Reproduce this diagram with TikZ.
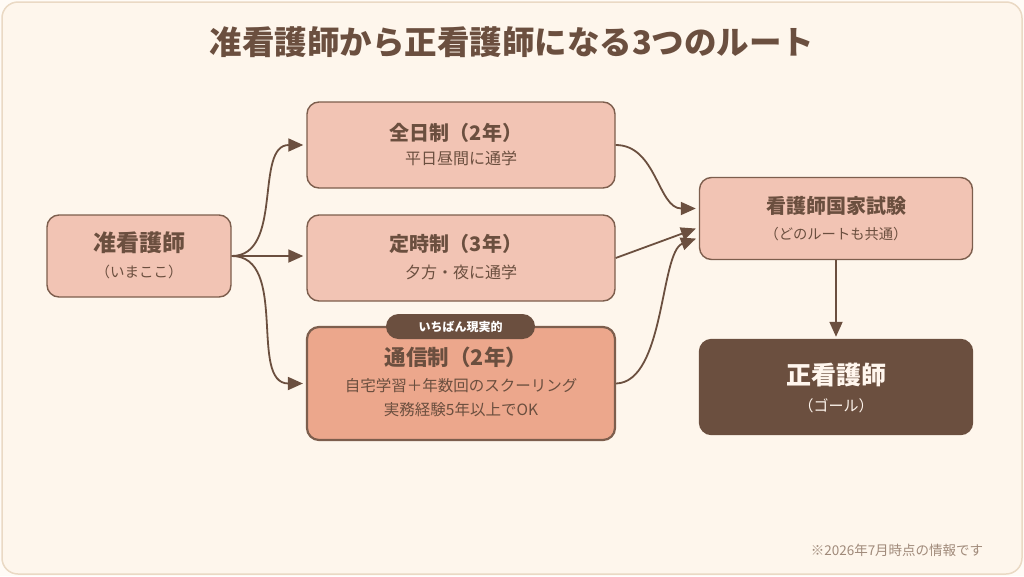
\documentclass[tikz,border=0pt]{standalone}
\usepackage{fontspec}
\setmainfont{Noto Sans CJK JP}
\usetikzlibrary{arrows.meta,calc}
\definecolor{outbg}{HTML}{FFFBF6}
\definecolor{bg}{HTML}{FEF6EC}
\definecolor{frameline}{HTML}{EAD9C4}
\definecolor{boxfill}{HTML}{F2C4B4}
\definecolor{boxfilldark}{HTML}{ECA78C}
\definecolor{boxline}{HTML}{7D5E4D}
\definecolor{ink}{HTML}{6B4F3F}
\definecolor{note}{HTML}{A08A7A}
\definecolor{light}{HTML}{FFF6EE}
\begin{document}
\begin{tikzpicture}[x=1pt,y=-1pt,
  box/.style={draw=boxline, line width=1.4pt, fill=boxfill, rounded corners=12pt, inner sep=0pt},
  ttl/.style={text=ink, inner sep=0pt},
  conn/.style={draw=ink, line width=1.8pt, -{Triangle[length=15pt,width=13pt]}, shorten >=3pt}]
\useasboundingbox (0,0) rectangle (1024,576);
\fill[outbg] (0,0) rectangle (1024,576);
\draw[fill=bg, draw=frameline, line width=1.5pt, rounded corners=16pt] (2,2) rectangle (1022,574);

\node[ttl, font=\fontsize{32.5}{32.5}\selectfont\bfseries] (title) at (512,42) {准看護師から正看護師になる3つのルート};

% boxes
\node[box, minimum width=184pt, minimum height=82pt] (jun) at (139,256) {};
\node[box, minimum width=308pt, minimum height=86pt] (zen) at (461,145) {};
\node[box, minimum width=308pt, minimum height=86pt] (tei) at (461,258) {};
\node[box, fill=boxfilldark, line width=2.2pt, minimum width=308pt, minimum height=113pt] (tsu) at (461,383.5) {};
\node[box, minimum width=273pt, minimum height=82pt] (exam) at (836,218.5) {};
\node[box, fill=ink, draw=ink, minimum width=273pt, minimum height=95pt] (sei) at (836,387) {};

% badge
\node[fill=ink, rounded corners=12.5pt, minimum width=149pt, minimum height=25pt, inner sep=0pt, text=white, font=\fontsize{12}{12}\selectfont\bfseries] (badge) at (460.5,326.5) {いちばん現実的};

% texts
\node[ttl, font=\fontsize{23}{23}\selectfont\bfseries] (junT) at (139,243) {准看護師};
\node[ttl, font=\fontsize{14.5}{14.5}\selectfont] (junS) at (139,272) {（いまここ）};
\node[ttl, font=\fontsize{20}{20}\selectfont\bfseries] (zenT) at (456,133) {全日制（2年）};
\node[ttl, font=\fontsize{16}{16}\selectfont] (zenS) at (461,158) {平日昼間に通学};
\node[ttl, font=\fontsize{20}{20}\selectfont\bfseries] (teiT) at (456,244) {定時制（3年）};
\node[ttl, font=\fontsize{16}{16}\selectfont] (teiS) at (461,272) {夕方・夜に通学};
\node[ttl, font=\fontsize{21.5}{21.5}\selectfont\bfseries] (tsuT) at (456,357) {通信制（2年）};
\node[ttl, font=\fontsize{15.5}{15.5}\selectfont] (tsuS1) at (461,386) {自宅学習＋年数回のスクーリング};
\node[ttl, font=\fontsize{15.5}{15.5}\selectfont] (tsuS2) at (461,410) {実務経験5年以上でOK};
\node[ttl, font=\fontsize{20}{20}\selectfont\bfseries] (examT) at (836,206) {看護師国家試験};
\node[ttl, font=\fontsize{14.3}{14.3}\selectfont] (examS) at (836,234) {（どのルートも共通）};
\node[ttl, text=light, font=\fontsize{25}{25}\selectfont\bfseries] (seiT) at (836,375) {正看護師};
\node[ttl, text=light, font=\fontsize{15}{15}\selectfont] (seiS) at (836,406) {（ゴール）};

\node[ttl, text=note, font=\fontsize{13.5}{13.5}\selectfont] (foot) at (897,550) {※2026年7月時点の情報です};

% connectors left
\draw[conn] (jun.east) to[out=0,in=180] (zen.west);
\draw[conn] (jun.east) -- (jun.east -| tei.west);
\draw[conn] (jun.east) to[out=0,in=180] (tsu.west);
% connectors right
\draw[conn] (zen.east) to[out=0,in=180] ([yshift=10pt]exam.west);
\draw[conn] (tei.east) -- ([yshift=-9pt]exam.west);
\draw[conn] (tsu.east) .. controls (665,382) and (660,252) .. ([yshift=-19pt]exam.west);
% down
\draw[conn, shorten >=2pt] (exam.south) -- (sei.north);
\end{tikzpicture}
\end{document}
